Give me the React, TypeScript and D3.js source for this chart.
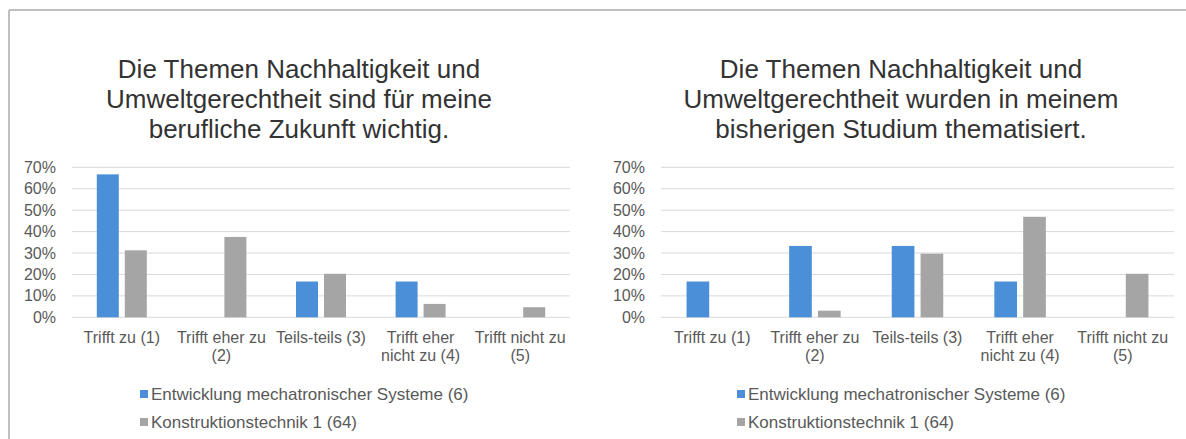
import React from "react";
import * as d3 from "d3";

const categories = [
  "Trifft zu (1)",
  "Trifft eher zu (2)",
  "Teils-teils (3)",
  "Trifft eher nicht zu (4)",
  "Trifft nicht zu (5)",
];
const categoryLines = [
  ["Trifft zu (1)"],
  ["Trifft eher zu", "(2)"],
  ["Teils-teils (3)"],
  ["Trifft eher", "nicht zu (4)"],
  ["Trifft nicht zu", "(5)"],
];
const seriesNames = [
  "Entwicklung mechatronischer Systeme (6)",
  "Konstruktionstechnik 1 (64)",
];
const seriesColors = ["#4a8fd8", "#a5a5a5"];
const yTicks = [0, 0.1, 0.2, 0.3, 0.4, 0.5, 0.6, 0.7];

const title1 = [
  "Die Themen Nachhaltigkeit und",
  "Umweltgerechtheit sind für meine",
  "berufliche Zukunft wichtig.",
];
const left_mech = [0.667, 0, 0.167, 0.167, 0];
const left_konst = [0.3125, 0.375, 0.203, 0.0625, 0.047];

const title2 = [
  "Die Themen Nachhaltigkeit und",
  "Umweltgerechtheit wurden in meinem",
  "bisherigen Studium thematisiert.",
];
const right_mech = [0.167, 0.333, 0.333, 0.167, 0];
const right_konst = [0, 0.031, 0.297, 0.469, 0.203];

type ChartProps = {
  title: string[];
  series: number[][];
  x0: number;
  x1: number;
  titleX: number;
  legendX: number;
};

const Y0 = 317.3;
const Y70 = 167.3;
const FONT = "'Liberation Sans', Arial, sans-serif";

function Chart({ title, series, x0, x1, titleX, legendX }: ChartProps) {
  const y = d3.scaleLinear().domain([0, 0.7]).range([Y0, Y70]);
  const x = d3.scaleBand<string>().domain(categories).range([x0, x1]).padding(0);
  const groupW = x.bandwidth() * 0.502;
  const inner = d3
    .scaleBand<number>()
    .domain(series.map((_, i) => i))
    .range([0, groupW])
    .paddingInner(0.214);
  const fmt = d3.format(".0%");
  return (
    <g>
      {title.map((t, i) => (
        <text
          key={i}
          x={titleX}
          y={78 + i * 30}
          textAnchor="middle"
          fontSize={26}
          fill="#333"
          fontFamily={FONT}
        >
          {t}
        </text>
      ))}
      {yTicks.map((t) => (
        <g key={t}>
          <line x1={x0} x2={x1} y1={y(t)} y2={y(t)} stroke="#d9d9d9" strokeWidth={1} />
          <text
            x={x0 - 16}
            y={y(t)}
            dy="0.35em"
            textAnchor="end"
            fontSize={16}
            fill="#595959"
            fontFamily={FONT}
          >
            {fmt(t)}
          </text>
        </g>
      ))}
      {categories.map((c, ci) => {
        const gx = (x(c) as number) + (x.bandwidth() - groupW) / 2;
        return (
          <g key={c}>
            {series.map((s, si) =>
              s[ci] > 0 ? (
                <rect
                  key={si}
                  x={gx + (inner(si) as number)}
                  y={y(s[ci])}
                  width={inner.bandwidth()}
                  height={Y0 - y(s[ci])}
                  fill={seriesColors[si]}
                />
              ) : null
            )}
            {categoryLines[ci].map((l, li) => (
              <text
                key={li}
                x={(x(c) as number) + x.bandwidth() / 2}
                y={343 + li * 18}
                textAnchor="middle"
                fontSize={16}
                fill="#595959"
                fontFamily={FONT}
              >
                {l}
              </text>
            ))}
          </g>
        );
      })}
      {seriesNames.map((n, i) => (
        <g key={n}>
          <rect x={legendX} y={390 + i * 28} width={8} height={8} fill={seriesColors[i]} />
          <text
            x={legendX + 11}
            y={394 + i * 28}
            dy="0.35em"
            fontSize={17}
            fill="#595959"
            fontFamily={FONT}
          >
            {n}
          </text>
        </g>
      ))}
    </g>
  );
}

export default function App() {
  return (
    <svg
      width={1186}
      height={439}
      style={{ position: "absolute", left: 0, top: 0, background: "#fff" }}
    >
      <rect x={0} y={0} width={1186} height={439} fill="#fff" />
      <line x1={9} x2={1186} y1={10} y2={10} stroke="#bfbfbf" strokeWidth={2} />
      <line x1={9} x2={9} y1={10} y2={439} stroke="#bfbfbf" strokeWidth={2} />
      <Chart
        title={title1}
        series={[left_mech, left_konst]}
        x0={72}
        x1={570}
        titleX={299}
        legendX={140}
      />
      <Chart
        title={title2}
        series={[right_mech, right_konst]}
        x0={661}
        x1={1174}
        titleX={901}
        legendX={737}
      />
    </svg>
  );
}
